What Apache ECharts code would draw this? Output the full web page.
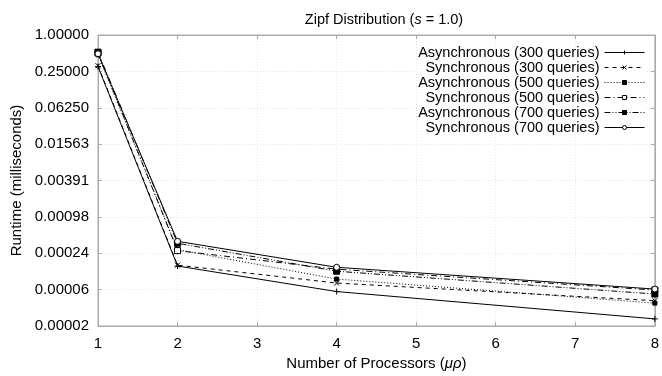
<!DOCTYPE html>
<html>
<head>
<meta charset="utf-8">
<script src="https://cdn.jsdelivr.net/npm/echarts@6/dist/echarts.min.js"></script>
<style>
  html, body { margin: 0; padding: 0; background: #fff; }
  #chart { width: 662px; height: 376px; }
</style>
</head>
<body>
<div id="chart"></div>
<script>
const processors = [1, 2, 4, 8];

const async300 = [0.30, 0.000150, 0.0000567, 0.0000200];
const sync300 = [0.31, 0.000155, 0.0000784, 0.0000400];
const async500 = [0.47, 0.000280, 0.0000912, 0.0000365];
const sync500 = [0.505, 0.000270, 0.000133, 0.0000600];
const async700 = [0.52, 0.000357, 0.000123, 0.0000516];
const sync700 = [0.49, 0.000385, 0.000143, 0.0000623];

const seriesNames = [
  "Asynchronous (300 queries)",
  "Synchronous (300 queries)",
  "Asynchronous (500 queries)",
  "Synchronous (500 queries)",
  "Asynchronous (700 queries)",
  "Synchronous (700 queries)",
];

const font = "Liberation Sans";
const axisGray = "#aaa";

const chart = echarts.init(document.getElementById("chart"));

// marker / dash per series, gnuplot-ish
const styles = [
  { values: async300, symbol: "path://M0,5L10,5M5,0L5,10", size: 6, dash: "solid", fill: "#000" },
  { values: sync300, symbol: "path://M0,0L10,10M10,0L0,10", size: 5, dash: [4, 4], fill: "#000" },
  { values: async500, symbol: "rect", size: 4, dash: [1, 2], fill: "#000" },
  { values: sync500, symbol: "rect", size: 6, dash: [6, 3, 1, 3], fill: "#fff" },
  { values: async700, symbol: "rect", size: 6, dash: [6, 2, 1, 2, 1, 2], fill: "#000" },
  { values: sync700, symbol: "circle", size: 6, dash: "solid", fill: "#fff" },
];

const series = styles.map((s, i) => ({
  name: seriesNames[i],
  type: "line",
  data: processors.map((p, j) => [p, s.values[j]]),
  symbol: s.symbol,
  symbolSize: s.size,
  showAllSymbol: true,
  lineStyle: { color: "#000", width: 1, type: s.dash },
  itemStyle: { color: s.fill, borderColor: "#000", borderWidth: 1 },
  emphasis: { disabled: true },
  z: 3,
}));

const option = {
  animation: false,
  backgroundColor: "#fff",
  textStyle: { fontFamily: font },

  title: {
    text: "Zipf Distribution ({i|s} = 1.0)",
    left: 379,
    top: 7,
    textAlign: "center",
    textStyle: {
      fontFamily: font,
      fontSize: 14.5,
      fontWeight: "normal",
      color: "#000",
      rich: { i: { fontStyle: "italic", fontFamily: font, fontSize: 14.5 } },
    },
  },

  legend: {
    orient: "vertical",
    right: 17,
    top: 45,
    align: "right",
    itemWidth: 40,
    itemHeight: 5,
    itemGap: 0,
    backgroundColor: "#fff",
    padding: [0, 0, 0, 0],
    lineStyle: { width: 1 },
    itemStyle: { borderWidth: 1 },
    textStyle: { fontFamily: font, fontSize: 14.5, color: "#000", lineHeight: 14 },
    data: seriesNames,
  },

  grid: {
    left: 98,
    right: 4,
    top: 35,
    bottom: 50,
    show: true,
    borderColor: axisGray,
    borderWidth: 1,
  },

  xAxis: [
    {
      type: "value",
      min: 1,
      max: 8,
      interval: 1,
      name: "Number of Processors ({i|μρ})",
      nameLocation: "middle",
      nameGap: 28,
      nameTextStyle: {
        fontFamily: font,
        fontSize: 15,
        color: "#000",
        rich: { i: { fontStyle: "italic", fontFamily: font, fontSize: 15 } },
      },
      axisLine: { show: true, lineStyle: { color: axisGray } },
      axisTick: { show: true, inside: true, length: 4, lineStyle: { color: axisGray } },
      axisLabel: { fontFamily: font, fontSize: 15, color: "#000", margin: 10 },
      splitLine: { show: true, lineStyle: { color: "#e6e6e6", type: [1, 2] } },
    },
    {
      type: "value",
      position: "top",
      min: 1,
      max: 8,
      interval: 1,
      axisLine: { show: true, lineStyle: { color: axisGray } },
      axisTick: { show: true, inside: true, length: 4, lineStyle: { color: axisGray } },
      axisLabel: { show: false },
      splitLine: { show: false },
    },
  ],

  yAxis: [
    {
      type: "log",
      logBase: 4,
      min: Math.pow(4, -8),
      max: 1,
      name: "Runtime (milliseconds)",
      nameLocation: "middle",
      nameGap: 73,
      nameTextStyle: { fontFamily: font, fontSize: 15, color: "#000" },
      axisLine: { show: true, lineStyle: { color: axisGray } },
      axisTick: { show: true, inside: true, length: 4, lineStyle: { color: axisGray } },
      axisLabel: {
        fontFamily: font,
        fontSize: 15,
        color: "#000",
        margin: 9,
        formatter: (v) => v.toFixed(5),
      },
      splitLine: { show: true, lineStyle: { color: "#e6e6e6", type: [1, 2] } },
    },
    {
      type: "log",
      logBase: 4,
      position: "right",
      min: Math.pow(4, -8),
      max: 1,
      axisLine: { show: true, lineStyle: { color: axisGray } },
      axisTick: { show: true, inside: true, length: 4, lineStyle: { color: axisGray } },
      axisLabel: { show: false },
      splitLine: { show: false },
    },
  ],

  series,
};

chart.setOption(option);
</script>
</body>
</html>
